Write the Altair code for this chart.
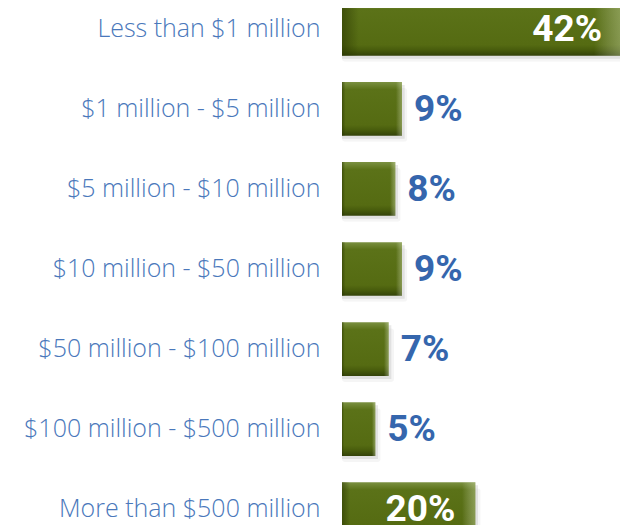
import altair as alt
import pandas as pd

categories = [
    "Less than $1 million",
    "$1 million - $5 million",
    "$5 million - $10 million",
    "$10 million - $50 million",
    "$50 million - $100 million",
    "$100 million - $500 million",
    "More than $500 million",
]
values = [42, 9, 8, 9, 7, 5, 20]
labels = ["42%", "9%", "8%", "9%", "7%", "5%", "20%"]

df = pd.DataFrame({"cat": categories, "val": values, "lab": labels})
df["inside"] = df["val"] >= 15

y_enc = alt.Y(
    "cat:N",
    sort=categories,
    scale=alt.Scale(paddingInner=0.33, paddingOuter=0),
    axis=alt.Axis(
        title=None, domain=False, ticks=False, grid=False, labelPadding=22,
        labelFont="Open Sans", labelFontWeight=300, labelFontSize=25,
        labelColor="#4a78bb", labelLimit=400,
    ),
)
xscale = alt.Scale(domain=[0, 41.7])
x_enc = alt.X("val:Q", scale=xscale, axis=None)

base = alt.Chart(df).encode(y=y_enc, x=x_enc)

shadow1 = (
    alt.Chart(df)
    .transform_calculate(sh="datum.val + 0.4")
    .mark_bar(color="#999999", opacity=0.22, yOffset=3)
    .encode(y=y_enc, x=alt.X("sh:Q", scale=xscale, axis=None))
)
shadow2 = (
    alt.Chart(df)
    .transform_calculate(sh="datum.val + 0.8")
    .mark_bar(color="#aaaaaa", opacity=0.12, yOffset=6, cornerRadius=3)
    .encode(y=y_enc, x=alt.X("sh:Q", scale=xscale, axis=None))
)

vert = alt.Gradient(
    gradient="linear",
    x1=0, x2=0, y1=0, y2=1,
    stops=[
        alt.GradientStop(color="#7a9040", offset=0),
        alt.GradientStop(color="#5b7218", offset=0.14),
        alt.GradientStop(color="#556b12", offset=0.8),
        alt.GradientStop(color="#475b0c", offset=0.9),
        alt.GradientStop(color="#34430a", offset=1),
    ],
)
bars = base.mark_bar(color=vert)

horiz = alt.Gradient(
    gradient="linear",
    x1=0, x2=1, y1=0, y2=0,
    stops=[
        alt.GradientStop(color="rgba(40,52,0,0.55)", offset=0),
        alt.GradientStop(color="rgba(40,52,0,0)", offset=0.06),
        alt.GradientStop(color="rgba(255,255,255,0)", offset=0.9),
        alt.GradientStop(color="rgba(230,240,200,0.35)", offset=1),
    ],
)
bevel = base.mark_bar(color=horiz)

outside = base.transform_filter("!datum.inside").mark_text(
    align="left", baseline="middle", dx=12, dy=1,
    font="Roboto", fontWeight="bold", fontSize=37, color="#3566ad",
).encode(text="lab:N")

inside = base.transform_filter("datum.inside").mark_text(
    align="right", baseline="middle", dx=-20, dy=1,
    font="Roboto", fontWeight="bold", fontSize=37, color="#ffffff",
).encode(text="lab:N")

chart = (
    alt.layer(shadow2, shadow1, bars, bevel, outside, inside)
    .properties(
        width=278, height=534,
        background="#ffffff",
        autosize=alt.AutoSizeParams(type="none"),
        padding={"left": 334, "top": -6, "right": 0, "bottom": 10},
    )
    .configure_view(strokeWidth=0, stroke="transparent")
    .configure_axis(domain=False, grid=False, ticks=False)
)

chart.save("out.html", embed_options={"renderer": "svg", "actions": False})
